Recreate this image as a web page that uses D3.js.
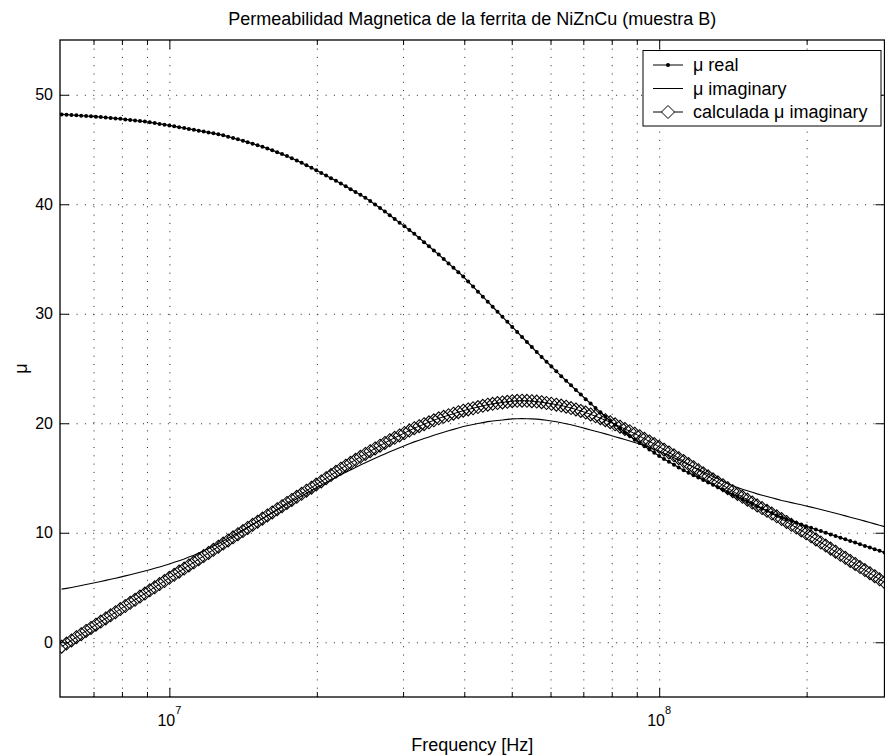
<!DOCTYPE html>
<html>
<head>
<meta charset="utf-8">
<script src="https://cdn.jsdelivr.net/npm/d3@7"></script>
<style>
  body { margin: 0; background: #fff; }
  text { font-family: "Liberation Sans", Arial, Helvetica, sans-serif; fill: #000; }
  .grid line { stroke: #222; stroke-width: 1; stroke-dasharray: 1, 7.3; }
  .axis line { stroke: #000; stroke-width: 1; }
</style>
</head>
<body>
<div id="chart"></div>
<script>
// ---- data ----
// frequency sweep (MHz), 100 points per decade
let freqMHz = [
  6.026, 6.166, 6.310, 6.457, 6.607, 6.761, 6.918, 7.079, 7.244, 7.413, 7.586, 7.762, 7.943, 8.128, 8.318, 8.511, 8.710, 8.913, 9.120, 9.333, 9.550, 9.772,
  10.00, 10.23, 10.47, 10.72, 10.96, 11.22, 11.48, 11.75, 12.02, 12.30,
  12.59, 12.88, 13.18, 13.49, 13.80, 14.13, 14.45, 14.79, 15.14, 15.49,
  15.85, 16.22, 16.60, 16.98, 17.38, 17.78, 18.20, 18.62, 19.05, 19.50,
  19.95, 20.42, 20.89, 21.38, 21.88, 22.39, 22.91, 23.44, 23.99, 24.55,
  25.12, 25.70, 26.30, 26.92, 27.54, 28.18, 28.84, 29.51, 30.20, 30.90,
  31.62, 32.36, 33.11, 33.88, 34.67, 35.48, 36.31, 37.15, 38.02, 38.90,
  39.81, 40.74, 41.69, 42.66, 43.65, 44.67, 45.71, 46.77, 47.86, 48.98,
  50.12, 51.29, 52.48, 53.70, 54.95, 56.23, 57.54, 58.88, 60.26, 61.66,
  63.10, 64.57, 66.07, 67.61, 69.18, 70.79, 72.44, 74.13, 75.86, 77.62,
  79.43, 81.28, 83.18, 85.11, 87.10, 89.13, 91.20, 93.33, 95.50, 97.72,
  100.0, 102.3, 104.7, 107.2, 109.6, 112.2, 114.8, 117.5, 120.2, 123.0,
  125.9, 128.8, 131.8, 134.9, 138.0, 141.3, 144.5, 147.9, 151.4, 154.9,
  158.5, 162.2, 166.0, 169.8, 173.8, 177.8, 182.0, 186.2, 190.5, 195.0,
  199.5, 204.2, 208.9, 213.8, 218.8, 223.9, 229.1, 234.4, 239.9, 245.5,
  251.2, 257.0, 263.0, 269.2, 275.4, 281.8, 288.4
];

// mu real (measured)
let muReal = [
  48.20, 48.18, 48.15, 48.12, 48.09, 48.06, 48.03, 48.00, 47.96, 47.92, 47.88, 47.84, 47.80, 47.75, 47.70, 47.65, 47.60, 47.55, 47.48, 47.41, 47.34, 47.27,
  47.20, 47.12, 47.04, 46.96, 46.88, 46.80, 46.72, 46.64, 46.56, 46.48,
  46.40, 46.29, 46.17, 46.05, 45.93, 45.80, 45.67, 45.53, 45.39, 45.25,
  45.10, 44.93, 44.76, 44.58, 44.40, 44.20, 43.99, 43.78, 43.56, 43.33,
  43.10, 42.86, 42.62, 42.38, 42.14, 41.90, 41.64, 41.38, 41.12, 40.86,
  40.60, 40.29, 39.97, 39.65, 39.33, 39.00, 38.66, 38.32, 37.98, 37.64,
  37.30, 36.92, 36.54, 36.16, 35.78, 35.40, 35.00, 34.60, 34.20, 33.80,
  33.40, 32.94, 32.48, 32.02, 31.56, 31.10, 30.64, 30.18, 29.72, 29.26,
  28.80, 28.34, 27.88, 27.42, 26.96, 26.50, 26.06, 25.62, 25.18, 24.74,
  24.30, 23.88, 23.46, 23.04, 22.62, 22.20, 21.80, 21.40, 21.00, 20.60,
  20.20, 19.86, 19.52, 19.18, 18.84, 18.50, 18.20, 17.90, 17.60, 17.30,
  17.00, 16.74, 16.48, 16.22, 15.96, 15.70, 15.48, 15.26, 15.04, 14.82,
  14.60, 14.38, 14.16, 13.94, 13.72, 13.50, 13.28, 13.06, 12.84, 12.62,
  12.40, 12.20, 12.00, 11.80, 11.60, 11.40, 11.24, 11.08, 10.92, 10.76,
  10.60, 10.45, 10.30, 10.15, 10.00, 9.85, 9.70, 9.55, 9.40, 9.25,
  9.10, 8.95, 8.80, 8.65, 8.50, 8.35, 8.20
];

// mu imaginary (measured)
let muImag = [
  4.85, 4.92, 5.00, 5.09, 5.18, 5.27, 5.36, 5.45, 5.55, 5.65, 5.75, 5.85, 5.95, 6.06, 6.17, 6.28, 6.39, 6.50, 6.62, 6.75, 6.88, 7.01,
  7.15, 7.30, 7.45, 7.61, 7.78, 7.95, 8.15, 8.35, 8.56, 8.78,
  9.00, 9.24, 9.49, 9.74, 10.00, 10.25, 10.51, 10.77, 11.03, 11.29,
  11.55, 11.81, 12.07, 12.33, 12.59, 12.85, 13.10, 13.35, 13.60, 13.85,
  14.10, 14.34, 14.58, 14.82, 15.06, 15.30, 15.52, 15.74, 15.96, 16.18,
  16.40, 16.60, 16.80, 17.00, 17.20, 17.40, 17.58, 17.76, 17.94, 18.12,
  18.30, 18.45, 18.60, 18.75, 18.90, 19.05, 19.18, 19.31, 19.44, 19.57,
  19.70, 19.79, 19.88, 19.97, 20.06, 20.15, 20.20, 20.25, 20.30, 20.35,
  20.40, 20.41, 20.42, 20.41, 20.40, 20.38, 20.33, 20.27, 20.20, 20.13,
  20.05, 19.96, 19.86, 19.75, 19.63, 19.51, 19.39, 19.27, 19.15, 19.03,
  18.90, 18.77, 18.64, 18.51, 18.38, 18.25, 18.10, 17.95, 17.80, 17.62,
  17.45, 17.25, 17.05, 16.85, 16.64, 16.43, 16.22, 16.01, 15.79, 15.57,
  15.35, 15.13, 14.92, 14.71, 14.50, 14.30, 14.14, 13.98, 13.83, 13.69,
  13.55, 13.43, 13.31, 13.19, 13.07, 12.95, 12.85, 12.75, 12.65, 12.55,
  12.45, 12.34, 12.23, 12.12, 12.01, 11.90, 11.78, 11.66, 11.54, 11.42,
  11.30, 11.18, 11.06, 10.94, 10.81, 10.68, 10.56
];

// mu imaginary (calculated)
let muImagCalc = [
  -0.40, -0.12, 0.17, 0.46, 0.74, 1.03, 1.31, 1.60, 1.89, 2.17, 2.46, 2.74, 3.03, 3.31, 3.60, 3.88, 4.17, 4.45, 4.74, 5.02, 5.31, 5.59,
  5.88, 6.16, 6.45, 6.73, 7.02, 7.30, 7.59, 7.87, 8.16, 8.44,
  8.73, 9.01, 9.30, 9.58, 9.87, 10.15, 10.44, 10.72, 11.01, 11.29,
  11.58, 11.86, 12.15, 12.43, 12.72, 13.00, 13.28, 13.56, 13.84, 14.12,
  14.40, 14.69, 14.98, 15.27, 15.56, 15.85, 16.12, 16.39, 16.66, 16.93,
  17.20, 17.45, 17.70, 17.95, 18.20, 18.45, 18.67, 18.89, 19.11, 19.33,
  19.55, 19.73, 19.91, 20.09, 20.27, 20.45, 20.59, 20.73, 20.87, 21.01,
  21.15, 21.26, 21.37, 21.48, 21.59, 21.70, 21.77, 21.84, 21.90, 21.96,
  22.02, 22.05, 22.06, 22.05, 22.02, 21.98, 21.92, 21.85, 21.78, 21.70,
  21.62, 21.51, 21.39, 21.26, 21.12, 20.98, 20.81, 20.64, 20.46, 20.28,
  20.10, 19.90, 19.69, 19.48, 19.27, 19.05, 18.82, 18.58, 18.34, 18.10,
  17.85, 17.59, 17.33, 17.07, 16.81, 16.55, 16.27, 15.99, 15.71, 15.43,
  15.15, 14.88, 14.61, 14.34, 14.07, 13.80, 13.54, 13.28, 13.02, 12.76,
  12.50, 12.25, 12.00, 11.75, 11.50, 11.25, 10.99, 10.73, 10.47, 10.21,
  9.95, 9.67, 9.39, 9.11, 8.83, 8.55, 8.27, 7.99, 7.71, 7.43,
  7.15, 6.87, 6.59, 6.31, 6.03, 5.75, 5.47
];

let yTicks = [0, 10, 20, 30, 40, 50];
let xMajorTicks = [1e7, 1e8];
let xMinorTicks = [7e6, 8e6, 9e6, 2e7, 3e7, 4e7, 5e7, 6e7, 7e7, 8e7, 9e7, 2e8];
let legendLabels = ["\u03bc real", "\u03bc imaginary", "calculada \u03bc imaginary"];
let titleText = "Permeabilidad Magnetica de la ferrita de NiZnCu (muestra B)";
let xLabelText = "Frequency [Hz]";
let yLabelText = "\u03bc";

// ---- chart setup ----
let svgWidth = 885;
let svgHeight = 756;

let margin = { top: 40, right: 0.5, bottom: 59, left: 60 };
let width = svgWidth - margin.left - margin.right;
let height = svgHeight - margin.top - margin.bottom;

let svg = d3.select('#chart')
    .append('svg')
    .attr('width', svgWidth)
    .attr('height', svgHeight)
    .style('background', '#fff');

let chart = svg.append('g')
    .attr('transform', `translate(${margin.left}, ${margin.top})`);

// scales
let x = d3.scaleLog()
    .domain([5.98e6, 2.884e8])
    .range([0, width]);

let y = d3.scaleLinear()
    .domain([-5, 55])
    .range([height, 0]);

// dotted grid
chart.append('g')
    .attr('class', 'grid')
    .attr('transform', `translate(0, ${height})`)
    .call(d3.axisBottom(x).tickValues(xMajorTicks.concat(xMinorTicks)).tickSize(-height).tickFormat(''))
    .call(g => g.select('.domain').remove());

chart.append('g')
    .attr('class', 'grid')
    .call(d3.axisLeft(y).tickValues(yTicks).tickSize(-width).tickFormat(''))
    .call(g => g.select('.domain').remove());

// curves
let clip = svg.append('defs').append('clipPath').attr('id', 'plotClip');
clip.append('rect').attr('x', 0).attr('y', 0).attr('width', width).attr('height', height);

let plot = chart.append('g').attr('clip-path', 'url(#plotClip)');

let realPts = freqMHz.map((f, i) => ({ f: f * 1e6, v: muReal[i] }));
let imagPts = freqMHz.map((f, i) => ({ f: f * 1e6, v: muImag[i] }));
let calcPts = freqMHz.map((f, i) => ({ f: f * 1e6, v: muImagCalc[i] }));

let line = d3.line()
    .x(d => x(d.f))
    .y(d => y(d.v));

// open diamond marker, same size as in the legend
let diamond = 'M0,-6.5L6.3,0L0,6.5L-6.3,0Z';

// calculated mu imaginary: line + open diamonds
plot.append('path')
    .datum(calcPts)
    .attr('d', line)
    .attr('fill', 'none')
    .attr('stroke', '#000')
    .attr('stroke-width', 1);

plot.selectAll('.diamond')
    .data(calcPts)
    .enter()
    .append('path')
    .attr('class', 'diamond')
    .attr('transform', d => `translate(${x(d.f)}, ${y(d.v)})`)
    .attr('d', diamond)
    .attr('fill', 'none')
    .attr('stroke', '#000')
    .attr('stroke-width', 1.05);

// measured mu imaginary: thin line
plot.append('path')
    .datum(imagPts)
    .attr('d', line)
    .attr('fill', 'none')
    .attr('stroke', '#000')
    .attr('stroke-width', 1.1);

// measured mu real: line + dots
plot.append('path')
    .datum(realPts)
    .attr('d', line)
    .attr('fill', 'none')
    .attr('stroke', '#000')
    .attr('stroke-width', 1.2);

plot.selectAll('.dot')
    .data(realPts)
    .enter()
    .append('circle')
    .attr('class', 'dot')
    .attr('cx', d => x(d.f))
    .attr('cy', d => y(d.v))
    .attr('r', 2)
    .attr('fill', '#000');

// axes, ticks pointing inward on all four sides
chart.append('g')
    .attr('class', 'axis')
    .attr('transform', `translate(0, ${height})`)
    .call(d3.axisBottom(x).tickValues(xMajorTicks).tickSizeInner(-9).tickSizeOuter(0).tickFormat(''))
    .call(g => g.select('.domain').remove());

chart.append('g')
    .attr('class', 'axis')
    .attr('transform', `translate(0, ${height})`)
    .call(d3.axisBottom(x).tickValues(xMinorTicks).tickSizeInner(-5).tickSizeOuter(0).tickFormat(''))
    .call(g => g.select('.domain').remove());

chart.append('g')
    .attr('class', 'axis')
    .call(d3.axisTop(x).tickValues(xMajorTicks).tickSizeInner(-9).tickSizeOuter(0).tickFormat(''))
    .call(g => g.select('.domain').remove());

chart.append('g')
    .attr('class', 'axis')
    .call(d3.axisTop(x).tickValues(xMinorTicks).tickSizeInner(-5).tickSizeOuter(0).tickFormat(''))
    .call(g => g.select('.domain').remove());

chart.append('g')
    .attr('class', 'axis')
    .call(d3.axisLeft(y).tickValues(yTicks).tickSizeInner(-9).tickSizeOuter(0).tickPadding(7).tickFormat(d3.format('d')))
    .call(g => g.select('.domain').remove())
    .call(g => g.selectAll('text').style('font-size', '16px'));

chart.append('g')
    .attr('class', 'axis')
    .attr('transform', `translate(${width}, 0)`)
    .call(d3.axisRight(y).tickValues(yTicks).tickSizeInner(-9).tickSizeOuter(0).tickFormat(''))
    .call(g => g.select('.domain').remove());

// 10^n labels
chart.selectAll('.xlabel')
    .data(xMajorTicks)
    .enter()
    .append('text')
    .attr('class', 'xlabel')
    .attr('x', d => x(d))
    .attr('y', height + 29)
    .attr('text-anchor', 'middle')
    .style('font-size', '16px')
    .each(function(d) {
        let t = d3.select(this);
        t.append('tspan').text('10');
        t.append('tspan')
            .attr('dy', -12)
            .style('font-size', '11px')
            .text(Math.round(Math.log10(d)));
    });

// frame
chart.append('rect')
    .attr('width', width)
    .attr('height', height)
    .attr('fill', 'none')
    .attr('stroke', '#000')
    .attr('stroke-width', 1.3);

// title and axis labels
svg.append('text')
    .attr('x', margin.left + width / 2)
    .attr('y', 25)
    .attr('text-anchor', 'middle')
    .style('font-size', '18px')
    .text(titleText);

svg.append('text')
    .attr('x', margin.left + width / 2)
    .attr('y', 751)
    .attr('text-anchor', 'middle')
    .style('font-size', '18px')
    .text(xLabelText);

svg.append('text')
    .attr('transform', `translate(27, ${margin.top + height / 2}) rotate(-90)`)
    .attr('text-anchor', 'middle')
    .style('font-size', '18px')
    .text(yLabelText);

// legend
let legend = svg.append('g')
    .attr('transform', 'translate(643, 50.5)');

legend.append('rect')
    .attr('width', 238)
    .attr('height', 75.5)
    .attr('fill', '#fff')
    .attr('stroke', '#000')
    .attr('stroke-width', 1);

let rows = legend.selectAll('.row')
    .data(legendLabels)
    .enter()
    .append('g')
    .attr('class', 'row')
    .attr('transform', (d, i) => `translate(0, ${14.5 + i * 23.5})`);

rows.append('line')
    .attr('x1', 10)
    .attr('x2', 40)
    .attr('stroke', '#000')
    .attr('stroke-width', 1);

rows.append('text')
    .attr('x', 50)
    .attr('y', 6)
    .style('font-size', '18px')
    .text(d => d);

rows.filter((d, i) => i === 0)
    .append('circle')
    .attr('cx', 25)
    .attr('r', 2)
    .attr('fill', '#000');

rows.filter((d, i) => i === 2)
    .append('path')
    .attr('transform', 'translate(25, 0)')
    .attr('d', 'M0,-6.5L6.5,0L0,6.5L-6.5,0Z')
    .attr('fill', '#fff')
    .attr('stroke', '#000')
    .attr('stroke-width', 1);
</script>
</body>
</html>
